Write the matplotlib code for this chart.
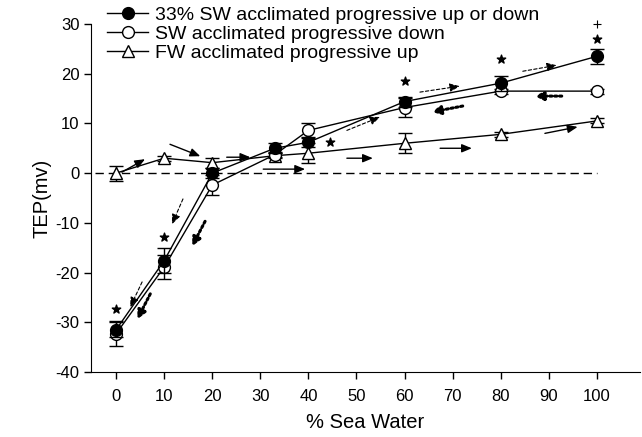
import numpy as np
import matplotlib.pyplot as plt

plt.rcParams['font.family'] = ['Liberation Sans', 'DejaVu Sans']
plt.rcParams['axes.unicode_minus'] = False

# salinity steps (% sea water)
x = [0, 10, 20, 33, 40, 60, 80, 100]

# 33% SW acclimated, progressive up or down (filled circles)
y_mid = [-31.5, -17.6, 0.0, 5.0, 6.2, 14.4, 18.1, 23.5]
e_mid = [1.5, 2.5, 1.0, 1.0, 1.0, 1.0, 1.5, 1.5]

# SW acclimated, progressive down (open circles)
y_sw = [-32.3, -18.9, -2.4, 3.7, 8.6, 13.2, 16.5, 16.5]
e_sw = [2.5, 2.5, 2.0, 0.5, 1.5, 2.0, 0.5, 0.5]

# FW acclimated, progressive up (open triangles)
y_fw = [0.0, 3.0, 2.1, 3.5, 4.0, 6.0, 7.8, 10.5]
e_fw = [1.5, 0.5, 1.0, 0.5, 2.0, 2.0, 0.5, 0.5]

# significance marks
star_x = [0, 10, 44.5, 60, 80, 100]
star_y = [-27.4, -12.9, 6.2, 18.5, 23.0, 27.0]
plus_x = [100]
plus_y = [30.0]

# arrows: (x0, y0, x1, y1)
arrows_solid = [(1.2, 0.2, 6.0, 2.8), (11.2, 5.8, 17.5, 3.4), (23.0, 3.2, 27.9, 3.2),
                (30.6, 0.8, 39.3, 0.8), (48.0, 3.0, 53.4, 3.0), (67.4, 5.0, 74.0, 5.0),
                (89.2, 8.0, 96.0, 9.3)]
arrows_dashed = [(5.4, -21.9, 2.9, -27.0), (13.9, -5.2, 11.6, -10.3), (48.0, 8.6, 54.9, 11.3),
                 (63.2, 16.3, 71.5, 17.5), (84.6, 20.5, 91.7, 21.7)]
arrows_dotted = [(92.7, 15.5, 87.1, 15.5), (72.1, 13.5, 65.7, 12.3),
                 (18.5, -9.7, 15.8, -14.7), (7.1, -24.3, 4.4, -29.4)]

fig = plt.figure(figsize=(6.42, 4.37), dpi=100)
ax = fig.add_axes([0.142, 0.149, 0.855, 0.796])

ax.plot([-4.5, 100], [0, 0], color='black', linestyle=(0, (6, 3.5)), linewidth=1)

common = dict(color='black', linewidth=1, capsize=5, capthick=1, elinewidth=1,
              markersize=8.5, markeredgewidth=1)
fw = ax.errorbar(x, y_fw, yerr=e_fw, marker='^', markerfacecolor='white', zorder=3, **common)
sw = ax.errorbar(x, y_sw, yerr=e_sw, marker='o', markerfacecolor='white', zorder=4, **common)
mid = ax.errorbar(x, y_mid, yerr=e_mid, marker='o', markerfacecolor='black', zorder=5, **common)

ax.scatter(star_x, star_y, marker='*', s=40, color='black', zorder=6)
ax.scatter(plus_x, plus_y, marker='+', s=30, color='black', linewidths=0.8, zorder=6,
           clip_on=False)

for x0, y0, x1, y1 in arrows_solid:
    ax.annotate('', xy=(x1, y1), xytext=(x0, y0),
                arrowprops=dict(arrowstyle='-|>,head_length=0.6,head_width=0.25',
                                color='black', lw=1, shrinkA=0, shrinkB=0))
for x0, y0, x1, y1 in arrows_dashed:
    ax.annotate('', xy=(x1, y1), xytext=(x0, y0),
                arrowprops=dict(arrowstyle='-|>,head_length=0.6,head_width=0.25',
                                color='black', lw=0.8, linestyle=(0, (3, 2)),
                                shrinkA=0, shrinkB=0))
for x0, y0, x1, y1 in arrows_dotted:
    ax.annotate('', xy=(x1, y1), xytext=(x0, y0),
                arrowprops=dict(arrowstyle='-|>,head_length=0.5,head_width=0.25',
                                color='black', lw=2.2, linestyle=(0, (0.7, 0.9)),
                                shrinkA=0, shrinkB=0))

ax.set_xlim(-5.2, 109)
ax.set_ylim(-40, 30)
ax.set_xticks(range(0, 101, 10))
ax.set_yticks(range(-40, 31, 10))
ax.spines['top'].set_visible(False)
ax.spines['right'].set_visible(False)
ax.tick_params(direction='out', length=5, width=1, labelsize=12, colors='black')
ax.tick_params(axis='x', pad=7)
ax.set_xlabel('% Sea Water', fontsize=14.5, labelpad=7)
ax.set_ylabel('TEP(mv)', fontsize=14.5, labelpad=3)

ax.legend([mid[0], sw[0], fw[0]],
          ['33% SW acclimated progressive up or down',
           'SW acclimated progressive down',
           'FW acclimated progressive up'],
          loc='upper left', bbox_to_anchor=(0.012, 1.08),
          frameon=False, fontsize=14, handlelength=2.1, handletextpad=0.35,
          labelspacing=0.08, borderpad=0)

fig.savefig('out.png', dpi=100)
